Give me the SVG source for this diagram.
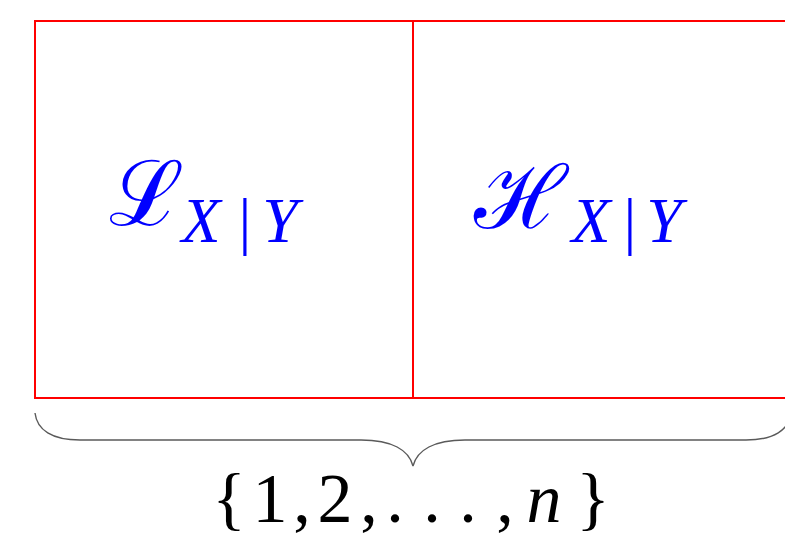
<svg xmlns="http://www.w3.org/2000/svg" width="785" height="551" viewBox="0 0 785 551">
<rect width="785" height="551" fill="#ffffff"/>
<g id="cell-L">
<rect x="35" y="21" width="378" height="377" fill="none" stroke="#ff0000" stroke-width="2"/>
<text font-family="Liberation Serif" fill="#0000ff" text-anchor="middle"><tspan x="146" y="225" font-size="90">ℒ</tspan><tspan x="201" y="242" font-size="64" font-style="italic">X</tspan><tspan x="245" y="242" font-size="64">|</tspan><tspan x="280" y="242" font-size="64" font-style="italic">Y</tspan></text>
</g>
<g id="cell-H">
<rect x="413" y="21" width="378" height="377" fill="none" stroke="#ff0000" stroke-width="2"/>
<text font-family="Liberation Serif" fill="#0000ff" text-anchor="middle"><tspan x="520" y="228" font-size="88">ℋ</tspan><tspan x="591" y="242" font-size="64" font-style="italic">X</tspan><tspan x="630" y="242" font-size="64">|</tspan><tspan x="664" y="242" font-size="64" font-style="italic">Y</tspan></text>
</g>
<g id="connectors">
<path d="M35,413 C37,430 52,440 80,440 L361,440 C392,440 409,450 413,466 C417,450 434,440 465,440 L746,440 C774,440 789,430 791,413" fill="none" stroke="#5a5a5a" stroke-width="1.4"/>
</g>
<g id="label">
<text font-family="Liberation Serif" font-size="70" fill="#000000" text-anchor="middle" y="522"><tspan x="229">{</tspan><tspan x="270">1</tspan><tspan x="302">,</tspan><tspan x="335">2</tspan><tspan x="369">,</tspan><tspan x="395">.</tspan><tspan x="432">.</tspan><tspan x="468">.</tspan><tspan x="505">,</tspan><tspan x="544" font-style="italic">n</tspan><tspan x="593">}</tspan></text>
</g>
</svg>
